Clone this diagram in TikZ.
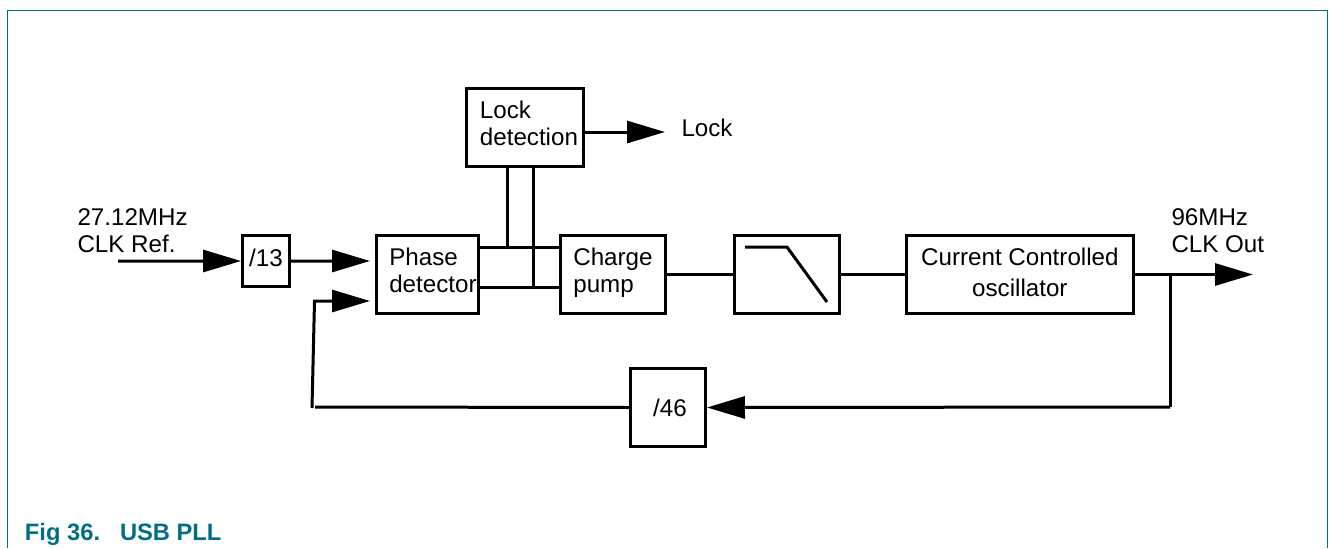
\documentclass[tikz,border=0pt]{standalone}
\usepackage{fontspec}
\setmainfont{Liberation Sans}
\definecolor{frameteal}{RGB}{0,111,133}
\usetikzlibrary{arrows.meta,positioning}

\begin{document}
\begin{tikzpicture}[x=0.02cm,y=-0.02cm,line width=0.06cm,node distance=1.3cm]
  \tikzstyle{blockbox}=[rectangle,draw=black,line width=0.06cm,minimum height=1.56cm,inner sep=0pt,align=left,text depth=5pt,font=\fontsize{13.75pt}{15.3pt}\selectfont]
  \tikzstyle{plainlabel}=[inner sep=0pt,anchor=base west,align=left,font=\fontsize{13.75pt}{15.3pt}\selectfont]
  \tikzstyle{bigarrow}=[-{Triangle[length=0.76cm,width=0.44cm]}]

  \useasboundingbox (0,0) rectangle (1329,548);
  % open frame round the figure
  \draw[frameteal,line width=0.026cm] (7.5,548) -- (7.5,10.5) -- (1327.5,10.5) -- (1327.5,548);
  \node[plainlabel,text=frameteal,font=\fontsize{13.5pt}{15.3pt}\selectfont\bfseries] (figno) at (23.5,540) {Fig 36.};
  \node[plainlabel,text=frameteal,font=\fontsize{13.5pt}{15.3pt}\selectfont\bfseries] (figtitle) at (118.5,540) {USB PLL};

  \node[blockbox,minimum width=2.04cm] (phase) at (427.5,274.5) {\hspace*{6.2pt}Phase\\\hspace*{6.2pt}detector};
  \node[blockbox,minimum width=0.94cm,minimum height=1.02cm,text depth=4pt,left=1.68cm of phase.west,yshift=0.27cm,anchor=east] (div13) {/13};
  \node[blockbox,minimum width=2.1cm,right=1.58cm of phase] (charge) {Charge\\pump};
  \node[blockbox,minimum width=2.1cm,right=1.32cm of charge] (filter) {};
  \node[blockbox,minimum width=4.54cm,text depth=2.5pt,right=1.28cm of filter,align=center] (cco) {Current Controlled\\[2.4pt]oscillator};
  \node[blockbox,minimum width=2.34cm] (lockdet) at (525,127.5) {\hspace*{4.5pt}Lock\\\hspace*{4.5pt}detection};
  \node[blockbox,minimum width=1.5cm,text depth=0pt] (div46) at (668,407.5) {\hspace*{2.3pt}/46};

  \node[plainlabel] (clkref) at (76,252) {27.12MHz\\CLK Ref.};
  \node[plainlabel] (lockout) at (680,136) {Lock};
  \node[plainlabel] (clkout) at (1170,252) {96MHz\\CLK Out};

  \coordinate (refstart) at (118,261);
  \coordinate (phasein) at (370,261);
  \coordinate (fbin) at (370,301);
  \coordinate (fbcorner) at (314.5,301);
  \coordinate (fbbottom) at (312,408);
  \coordinate (fbend) at (315,407);
  \coordinate (tap) at (1170,274.5);
  \coordinate (tapbottom) at (1170,407);
  \coordinate (outend) at (1253,274.5);
  \coordinate (lockend) at (665,132);
  \coordinate (uphi) at (480,247);
  \coordinate (chargehi) at (559,247);
  \coordinate (uplo) at (480,287);
  \coordinate (chargelo) at (559,287);
  \coordinate (lockleft) at (507,167);
  \coordinate (lockright) at (533,167);
  \coordinate (jointhi) at (507,247);
  \coordinate (jointlo) at (533,287);

  \draw[bigarrow] (refstart) -- (div13.west);
  \draw[bigarrow] (div13.east) -- (phasein);
  \draw[bigarrow] (fbbottom) -- (fbcorner) -- (fbin);
  \draw (div46.west) -- (fbend);
  \draw (tap) -- (tapbottom);
  \draw[bigarrow] (tapbottom) -- (div46.east);
  \draw[bigarrow] (cco.east) -- (outend);
  \draw[bigarrow] (lockdet.east |- lockend) -- (lockend);
  \draw (uphi) -- (chargehi);
  \draw (uplo) -- (chargelo);
  \draw (lockleft) -- (jointhi);
  \draw (lockright) -- (jointlo);
  \draw (charge) -- (filter);
  \draw (filter) -- (cco);
  % low-pass sketch in the filter box
  \draw (745,247) -- (787,247) -- (827,302);
\end{tikzpicture}
\end{document}
